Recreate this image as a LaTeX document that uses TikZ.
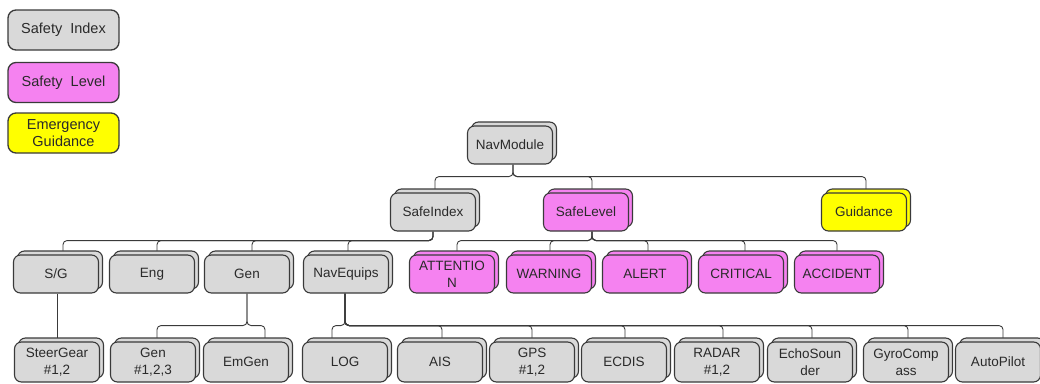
\documentclass[tikz,border=0pt]{standalone}
\usepackage{fontspec}
\setmainfont{Liberation Sans}
\usetikzlibrary{shadows,backgrounds}
\definecolor{bord}{HTML}{3A3A3A}
\definecolor{gfill}{HTML}{D9D9D9}
\definecolor{pfill}{HTML}{F582F0}
\definecolor{yfill}{HTML}{FFFF00}
\definecolor{txt}{HTML}{2A2A2A}
\tikzset{
  base/.style={rectangle, rounded corners=7pt, draw=bord, line width=1.1pt,
    text=txt, align=center, inner sep=1pt,
    font=\fontsize{13.5}{17}\selectfont},
  stack/.style={base, minimum width=85pt, minimum height=38pt,
    copy shadow={shadow xshift=4pt, shadow yshift=4pt}},
  gbox/.style={stack, fill=gfill},
  pbox/.style={stack, fill=pfill},
  ybox/.style={stack, fill=yfill},
  legend/.style={base, minimum width=111pt, minimum height=40pt, rounded corners=8pt,
    line width=1.3pt, font=\fontsize{14.5}{17}\selectfont},
  conn/.style={draw=bord, line width=0.9pt, rounded corners=4pt}
}
\begin{document}
\begin{tikzpicture}[x=1pt,y=-1pt]
\useasboundingbox (0,0) rectangle (1040,383);
% legend
\node[legend, fill=gfill] (lgi) at (63.5,30) {Safety\ \ Index};
\node[legend, fill=pfill] (lgl) at (63.5,82.5) {Safety\ \ Level};
\node[legend, fill=yfill] (lgg) at (63.5,133) {Emergency\\Guidance};
% level 0
\node[gbox] (nav) at (510,145) {NavModule};
% level 1
\node[gbox] (si) at (433,212) {SafeIndex};
\node[pbox] (sl) at (586,212) {SafeLevel};
\node[ybox] (gd) at (864,212) {Guidance};
% level 2
\node[gbox] (sg) at (56,274) {S/G};
\node[gbox] (eng) at (152,274) {Eng};
\node[gbox] (gen) at (247,274) {Gen};
\node[gbox] (ne) at (346,274) {NavEquips};
\node[pbox] (att) at (452,274) {ATTENTIO\\N};
\node[pbox] (warn) at (549,274) {WARNING};
\node[pbox] (alert) at (645,274) {ALERT};
\node[pbox] (crit) at (741,274) {CRITICAL};
\node[pbox] (acc) at (837,274) {ACCIDENT};
% level 3
\node[gbox, minimum height=40pt] (steer) at (57,362) {SteerGear\\\#1,2};
\node[gbox, minimum height=40pt] (gen123) at (153,362) {Gen\\\#1,2,3};
\node[gbox, minimum height=40pt] (emgen) at (246,362) {EmGen};
\node[gbox, minimum height=40pt] (log) at (345,362) {LOG};
\node[gbox, minimum height=40pt] (ais) at (440,362) {AIS};
\node[gbox, minimum height=40pt] (gps) at (532,362) {GPS\\\#1,2};
\node[gbox, minimum height=40pt] (ecdis) at (624,362) {ECDIS};
\node[gbox, minimum height=40pt] (radar) at (717,362) {RADAR\\\#1,2};
\node[gbox, minimum height=40pt] (echo) at (810,362) {EchoSoun\\der};
\node[gbox, minimum height=40pt] (gyro) at (906,362) {GyroComp\\ass};
\node[gbox, minimum height=40pt] (auto) at (998,362) {AutoPilot};
% connectors
\begin{scope}[on background layer]
\draw[conn] ([xshift=3pt]nav.south) -- ++(0,12) -| ([xshift=2pt]si.north);
\draw[conn] ([xshift=3pt]nav.south) -- ++(0,12) -| ([xshift=6pt]sl.north);
\draw[conn] ([xshift=3pt]nav.south) -- ++(0,12) -| ([xshift=2pt]gd.north);
\foreach \c/\s in {sg/7, eng/5, gen/5, ne/2}
  \draw[conn] (si.south) -- ++(0,9) -| ([xshift=\s pt]\c.north);
\foreach \c/\s in {att/5, warn/1, alert/3, crit/4, acc/0}
  \draw[conn] ([xshift=6pt]sl.south) -- ++(0,9) -| ([xshift=\s pt]\c.north);
\draw[conn] ([xshift=1pt]sg.south) -- ([xshift=1pt]sg.south |- steer.north);
\foreach \c/\s in {gen123/4, emgen/19}
  \draw[conn] (gen.south) -- ++(0,32) -| ([xshift=\s pt]\c.north);
\foreach \c/\s in {log/-13, ais/2, gps/0, ecdis/1, radar/6, echo/2, gyro/2, auto/5}
  \draw[conn] ([xshift=-1pt]ne.south) -- ++(0,32) -| ([xshift=\s pt]\c.north);
\end{scope}
\end{tikzpicture}
\end{document}
